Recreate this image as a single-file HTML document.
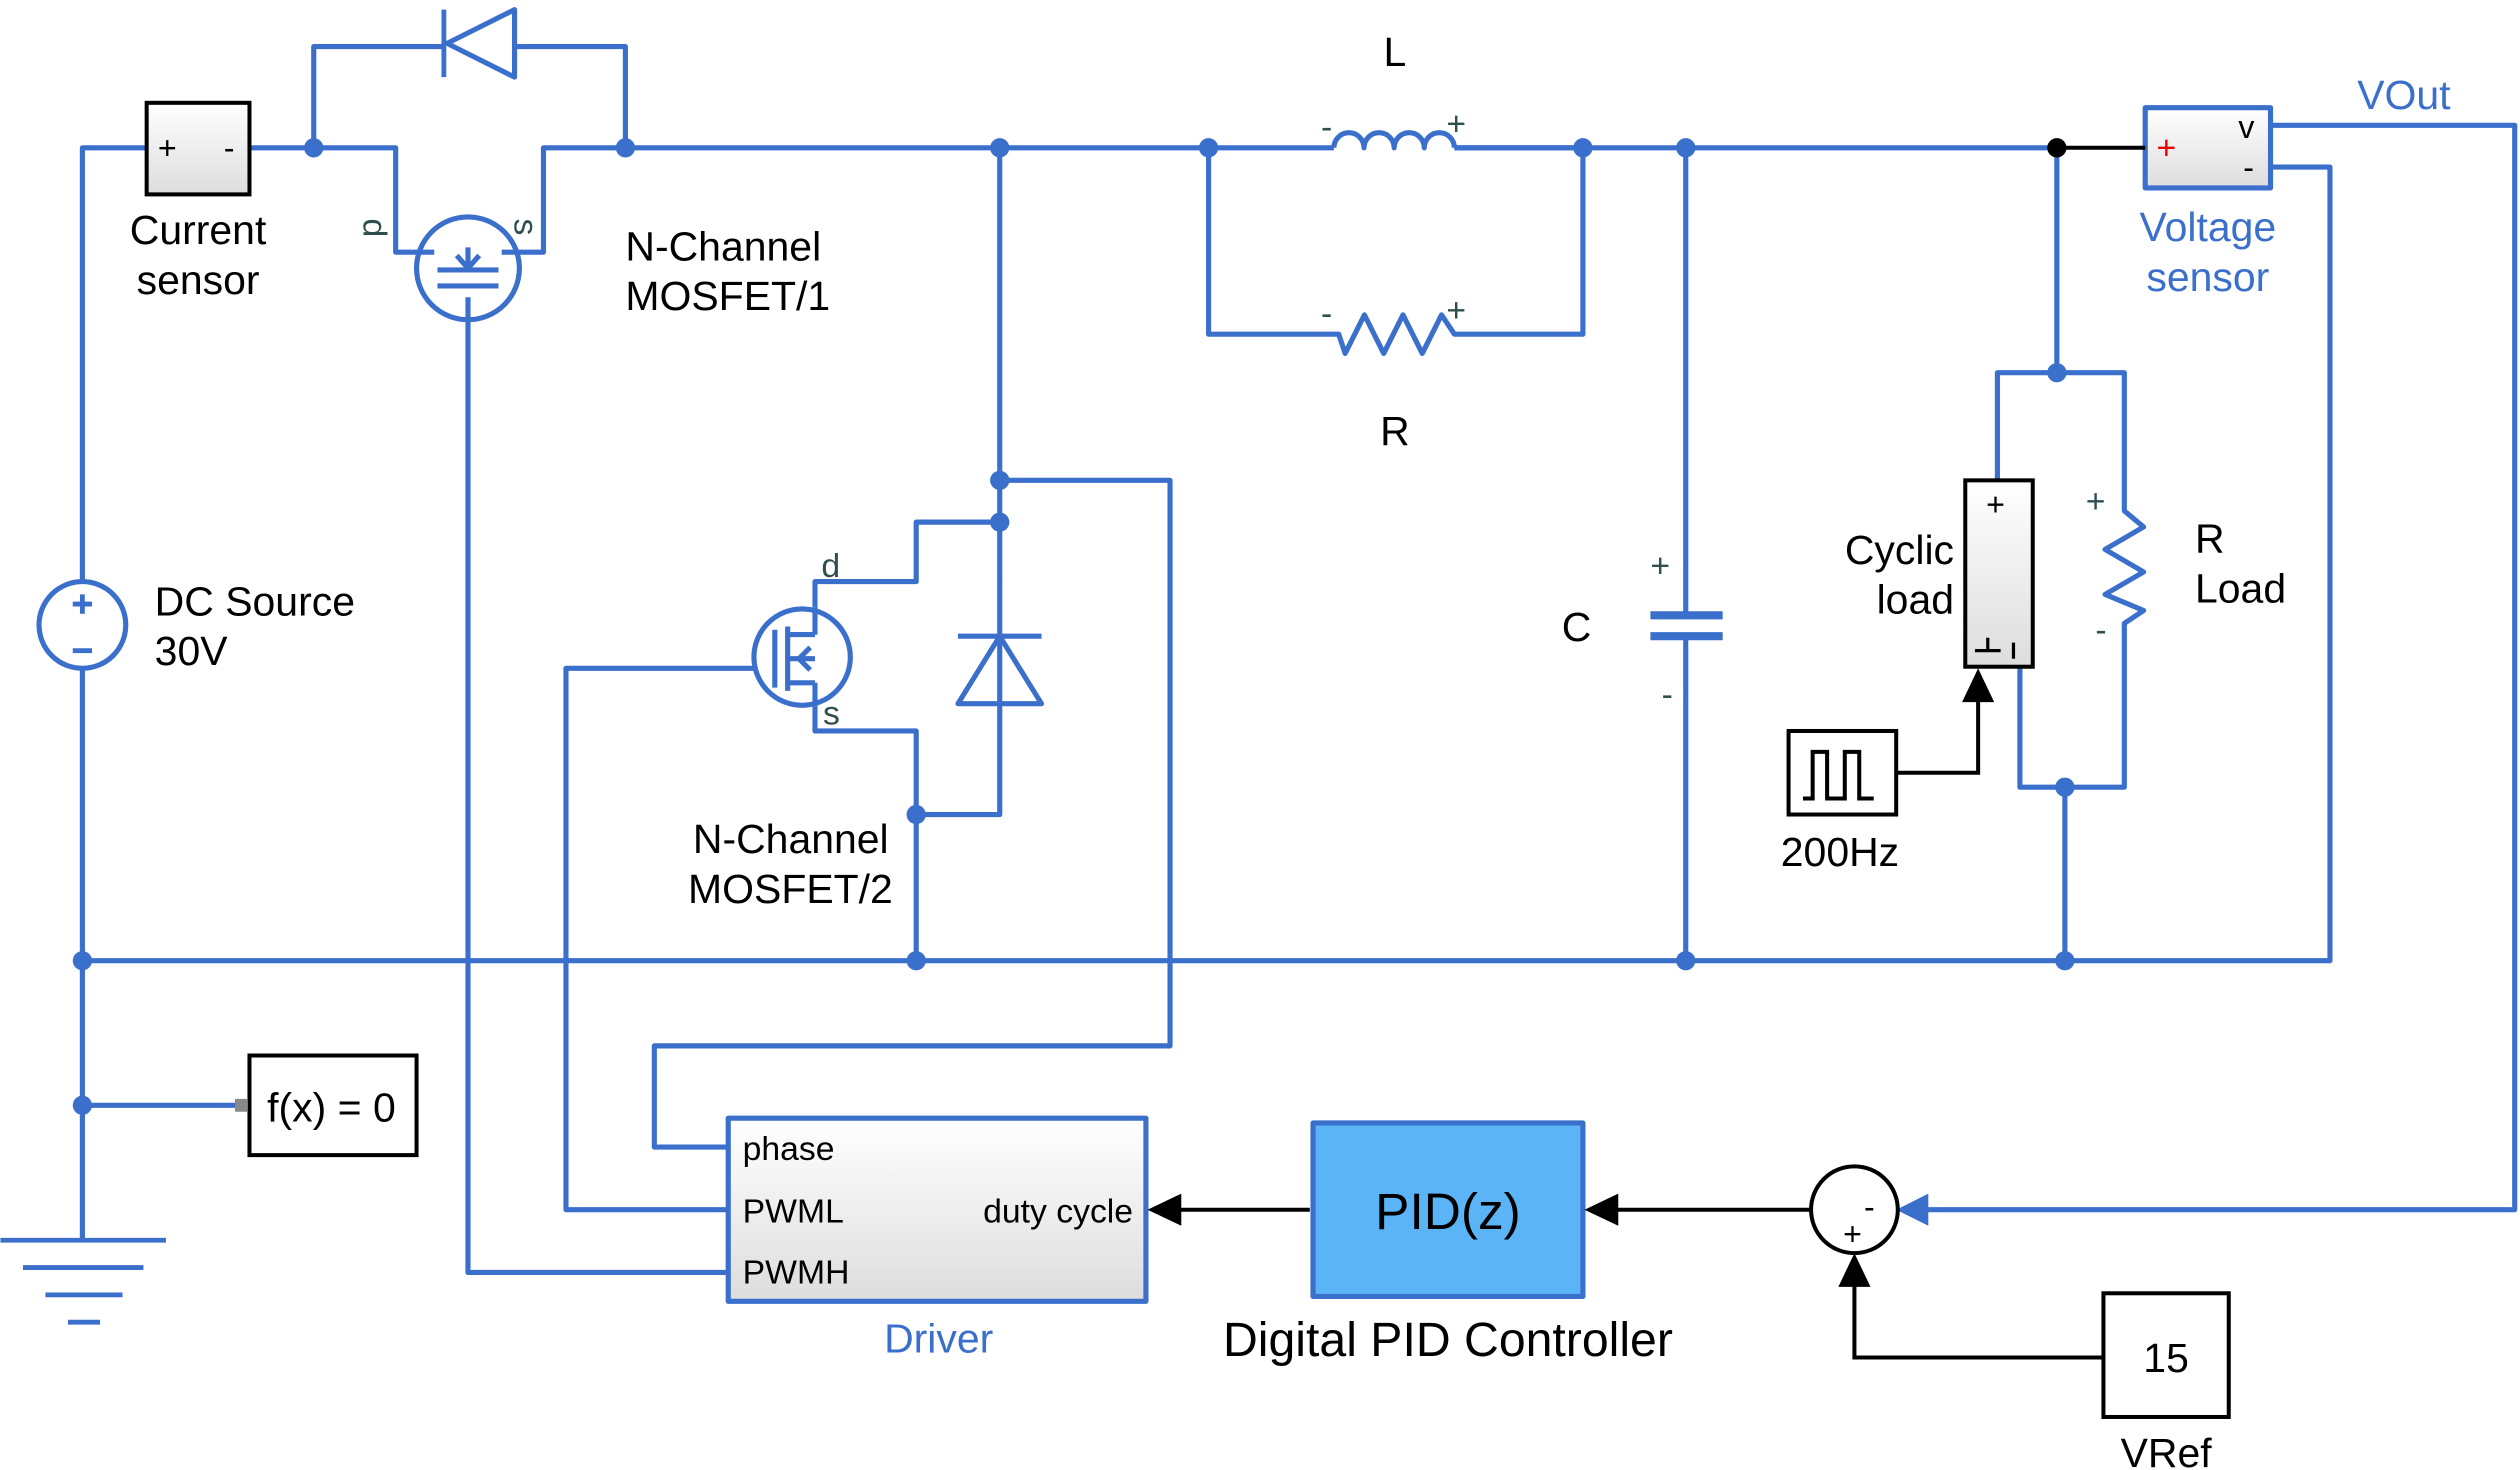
<!DOCTYPE html>
<html><head><meta charset="utf-8"><style>html,body{margin:0;padding:0;background:#fff}svg{display:block}</style></head><body>
<svg width="2520" height="1470" viewBox="0 0 1568 915" xmlns="http://www.w3.org/2000/svg" font-family="Liberation Sans, sans-serif">
<defs>
<linearGradient id="g" x1="0" y1="0" x2="0" y2="1"><stop offset="0" stop-color="#fff"/><stop offset="1" stop-color="#ddd"/></linearGradient>
</defs>
<g fill="none" stroke="#3a6fcc" stroke-width="3.2" stroke-linejoin="round">
<path d="M51,362 V92 H91 M155,92 H246 V157 H270 M312,157 H338 V92 H830 M905,92 H1280"/>
<path d="M195,92 V29 H276 M320,29 H389 V92"/>
<path d="M276,6 V48" stroke-width="3"/>
<path d="M320,6 V48 L278,27 Z"/>
<circle cx="291" cy="167" r="32"/>
<path d="M291,185 V792 H453"/>
<path d="M272,168 H310 M272,178 H310 M291,154 V167 M284,159 L291,167 L298,159"/>
<path d="M830,92 a9,9 0 0 1 18.75,0 a9,9 0 0 1 18.75,0 a9,9 0 0 1 18.75,0 a9,9 0 0 1 18.75,0"/>
<path d="M905,92 H985 V208 H905 L897,196 L885,220 L873,196 L861,220 L849,196 L837,220 L833,208 H752 V92"/>
<path d="M1049,92 V383 M1049,396 V598"/>
<path d="M1027,383 H1072 M1027,396 H1072" stroke-width="5"/>
<path d="M1280,92 V232 M1243,299 V232 H1322 V318 L1334,328 L1310,342 L1334,356 L1310,370 L1334,380 L1322,388 V490 H1257 V415 M1285,490 V598"/>
<rect x="1335" y="67" width="78" height="50" fill="url(#g)"/>
<path d="M1413,78 H1565 V753 H1198 M1413,104 H1450 V598 H51"/>
<circle cx="51" cy="389" r="27"/>
<path d="M51,416 V772"/>
<path d="M45,376 H57 M51,370 V382 M45,405 H57" stroke-width="3"/>
<path d="M622,92 V507 H570 M622,299 H728 V651 H407 V714 H453 M622,325 H570 V362 H507 V378 M507,440 V455 H570 V598"/>
<path d="M596,396 H648 M596,438 H648 L622,396 Z"/>
<circle cx="499" cy="409" r="30"/>
<path d="M470,416 H352 V753 H453 M482,392 V428 M490,390 V430 M490,395 H507 M490,410 H507 M490,425 H507 M507,395 V378 M507,425 V440 M497,410 L504,403 M497,410 L504,417"/>
<path d="M51,688 H148"/>
<path d="M0,772 H103 M14,789 H89 M28,806 H76 M42,823 H62" stroke-width="3"/>
<rect x="453" y="696" width="260" height="114" fill="url(#g)"/>
<rect x="817" y="699" width="168" height="108" fill="#5ab4f5"/>
</g>
<g fill="#3a6fcc">
<circle cx="195" cy="92" r="6"/><circle cx="389" cy="92" r="6"/><circle cx="622" cy="92" r="6"/><circle cx="752" cy="92" r="6"/><circle cx="985" cy="92" r="6"/><circle cx="1049" cy="92" r="6"/>
<circle cx="1280" cy="232" r="6"/><circle cx="1285" cy="490" r="6"/><circle cx="622" cy="299" r="6"/><circle cx="622" cy="325" r="6"/><circle cx="570" cy="507" r="6"/>
<circle cx="51" cy="598" r="6"/><circle cx="570" cy="598" r="6"/><circle cx="1049" cy="598" r="6"/><circle cx="1285" cy="598" r="6"/><circle cx="51" cy="688" r="6"/>
<path d="M1180,753 L1200,743 L1200,763 Z"/>
</g>
<g fill="none" stroke="#000" stroke-width="2.5">
<rect x="91" y="64" width="64" height="57" fill="url(#g)"/>
<path d="M1280,92 H1335"/>
<rect x="155" y="657" width="104" height="62"/>
<rect x="1223" y="299" width="42" height="116" fill="url(#g)"/>
<rect x="1113" y="455" width="67" height="52"/>
<path d="M1122,497 H1128 V468 H1137 V497 H1148 V468 H1157 V497 H1166"/>
<path d="M1180,481 H1231 V435"/>
<path d="M815,753 H733 M1127,753 H1005 M1309,845 H1154 V800"/>
<rect x="1309" y="805" width="78" height="77"/>
<circle cx="1154" cy="753" r="27"/>
<path d="M1229,405 H1245 M1237,397 V405 M1253,400 V410" stroke-width="2"/>
</g>
<g fill="#000">
<circle cx="1280" cy="92" r="6"/>
<path d="M1231,416 L1221,437 L1241,437 Z M714,753 L735,743 L735,763 Z M986,753 L1007,743 L1007,763 Z M1154,780 L1144,801 L1164,801 Z"/>
<rect x="146" y="684" width="8" height="8" fill="#888"/>
</g>
<g font-size="25.5" fill="#000">
<text x="123" y="152" text-anchor="middle">Current</text>
<text x="123" y="183" text-anchor="middle">sensor</text>
<text x="389" y="162">N-Channel</text>
<text x="389" y="193">MOSFET/1</text>
<text x="96" y="383">DC Source</text>
<text x="96" y="414">30V</text>
<text x="431" y="531">N-Channel</text>
<text x="428" y="562">MOSFET/2</text>
<text x="868" y="41" text-anchor="middle">L</text>
<text x="868" y="277" text-anchor="middle">R</text>
<text x="981" y="399" text-anchor="middle">C</text>
<text x="1216" y="351" text-anchor="end">Cyclic</text>
<text x="1216" y="382" text-anchor="end">load</text>
<text x="1366" y="344">R</text>
<text x="1366" y="375">Load</text>
<text x="1145" y="539" text-anchor="middle">200Hz</text>
<text x="166" y="698">f(x) = 0</text>
<text x="1348" y="854" text-anchor="middle">15</text>
<text x="1348" y="913" text-anchor="middle">VRef</text>
<text x="901" y="844" text-anchor="middle" font-size="30">Digital PID Controller</text>
<text x="901" y="765" text-anchor="middle" font-size="32">PID(z)</text>
<text x="462" y="722" font-size="21">phase</text>
<text x="462" y="761" font-size="21">PWML</text>
<text x="462" y="799" font-size="21">PWMH</text>
<text x="705" y="761" font-size="21" text-anchor="end">duty cycle</text>
<text x="98" y="99" font-size="20">+</text>
<text x="139" y="99" font-size="20">-</text>
<text x="1236" y="321" font-size="20">+</text>
<text x="1393" y="86" font-size="20">v</text>
<text x="1396" y="111" font-size="20">-</text>
<text x="1147" y="775" font-size="20">+</text>
<text x="1160" y="758" font-size="20">-</text>
</g>
<g fill="#2f4f4f" font-size="21">
<text x="822" y="86">-</text><text x="900" y="84">+</text>
<text x="822" y="202">-</text><text x="900" y="200">+</text>
<text x="1027" y="359">+</text><text x="1034" y="439">-</text>
<text x="1298" y="319">+</text><text x="1304" y="399">-</text>
<text x="511" y="359">d</text><text x="512" y="451">s</text>
<text x="0" y="0" transform="translate(226,136) rotate(90)">d</text>
<text x="0" y="0" transform="translate(320,136) rotate(90)">s</text>
</g>
<text x="1342" y="99" fill="#e00" font-size="21">+</text>
<g fill="#3a6fcc" font-size="25.5">
<text x="1374" y="150" text-anchor="middle">Voltage</text>
<text x="1374" y="181" text-anchor="middle">sensor</text>
<text x="1496" y="68" text-anchor="middle">VOut</text>
<text x="584" y="842" text-anchor="middle">Driver</text>
</g>
</svg>
</body></html>
